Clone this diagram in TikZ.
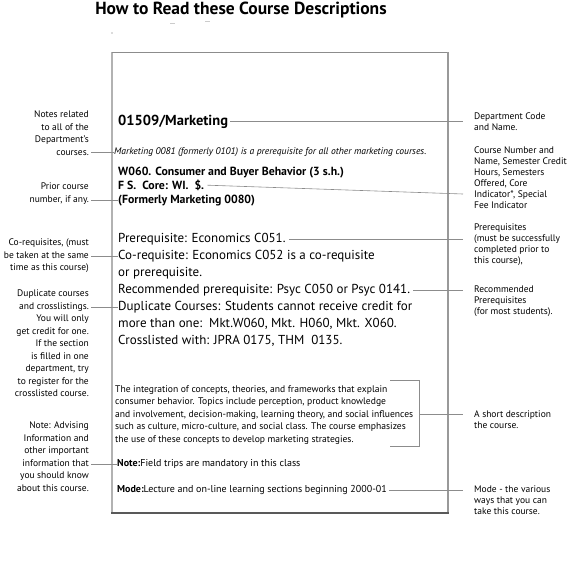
\documentclass[tikz,border=0pt]{standalone}
\usepackage{fontspec}
\setmainfont{PT Sans}
\newcommand\rlines[1]{\vtop{\halign{\hfil##\cr#1\crcr}}}
\newcommand\llines[1]{\vtop{\halign{##\hfil\cr#1\crcr}}}
\begin{document}
\begin{tikzpicture}[x=1pt,y=-1pt,
  labl/.style={font=\fontsize{9.5}{12.5}\selectfont, inner sep=0pt, anchor=base east},
  labr/.style={font=\fontsize{9.5}{11}\selectfont, inner sep=0pt, anchor=base west},
  conn/.style={draw=black!45, line width=0.6pt},
  big/.style={font=\fontsize{13}{16}\selectfont, inner sep=0pt, anchor=base west},
  hd/.style={font=\bfseries\fontsize{11.8}{14}\selectfont, inner sep=0pt, anchor=base west},
  small/.style={font=\fontsize{10}{13}\selectfont, inner sep=0pt, anchor=base west},
  descr/.style={font=\fontsize{9.6}{12.5}\selectfont, inner sep=0pt, anchor=base west}
]
\useasboundingbox (0,0) rectangle (576,566);
% title
\node[font=\bfseries\fontsize{17.5}{19}\selectfont, inner sep=0pt] (title) at (241,10) {How to Read these Course Descriptions};
\fill[black!60] (112,33) circle (0.6);
\draw[black!20, line width=0.5] (170,23) -- (175,23) (205,21) -- (210,21);
% frame
\draw[black!30, line width=1.8] (112,52) -- (112,513);
\draw[black!45, line width=0.9] (112,52) -- (448,52);
\draw[black!40, line width=1.2] (448,52) -- (448,513);
\draw[black!65, line width=1.2] (111,513) -- (449,513);
\coordinate (xr) at (463,0);
% department
\node[font=\bfseries\fontsize{14.5}{16}\selectfont, inner sep=0pt, anchor=base west] (mkt) at (118,125) {01509/Marketing};
\node[labr] (deptlab) at (474,119.5) {\llines{Department Code\cr and Name.}};
\draw[conn, shorten <=2pt] (mkt.east) -- (mkt.east -| xr);
% notes
\node[font=\itshape\fontsize{9.6}{11}\selectfont, inner sep=0pt, anchor=base west] (it) at (114,154.4) {Marketing 0081 (formerly 0101) is a prerequisite for all other marketing courses.};
\node[labl] (noteslab) at (89,117.9) {\rlines{Notes related\cr to all of the\cr Department's\cr courses.}};
\draw[conn, shorten <=2pt] (noteslab.east |- it.west) -- (it.west);
% course heading
\node[hd] (w060) at (118,175.2) {W060. Consumer and Buyer Behavior (3 s.h.)};
\node[hd] (fs) at (118,189.2) {F S.\ \ Core: WI.\ \ \$.};
\node[hd] (former) at (118,203.2) {(Formerly Marketing 0080)};
\coordinate (fsend) at (463,194);
\draw[conn, shorten <=3pt] (fs.east) -- (fsend);
\node[labr] (courselab) at (474,153.4) {\llines{Course Number and\cr Name, Semester Credit\cr Hours, Semesters\cr Offered, Core\cr Indicator*, Special\cr Fee Indicator}};
\node[labl] (priorlab) at (89,189.9) {\rlines{Prior course\cr number, if any.}};
\draw[conn, shorten <=2pt] (priorlab.east |- former.west) -- (former.west);
% requisites
\node[big] (pre) at (118,242.6) {Prerequisite: Economics C051.};
\node[big] (coreq) at (118,259.6) {Co-requisite: Economics C052 is a co-requisite};
\node[big] (orpre) at (118,276.6) {or prerequisite.};
\node[big] (rec) at (118,293.6) {Recommended prerequisite: Psyc C050 or Psyc 0141.};
\node[big] (dup) at (118,310.6) {Duplicate Courses: Students cannot receive credit for};
\node[big] (more) at (118,327.6) {more than one:\ \ Mkt.W060, Mkt. H060, Mkt. X060.};
\node[big] (cross) at (118,344.6) {Crosslisted with: JPRA 0175, THM\ \ 0135.};
\draw[conn, shorten <=3pt] (pre.east) -- (pre.east -| xr);
\node[labr] (prelab) at (474,230.4) {\llines{Prerequisites\cr (must be successfully\cr completed prior to\cr this course),}};
\node[labl] (coreqlab) at (89,245.9) {\rlines{Co-requisites, (must\cr be taken at the same\cr time as this course)}};
\draw[conn, shorten <=2pt] (coreqlab.east |- coreq.west) -- (coreq.west);
\draw[conn, shorten <=3pt] (rec.east) -- (rec.east -| xr);
\node[labr] (reclab) at (474,292.4) {\llines{Recommended\cr Prerequisites\cr (for most students).}};
\node[labl] (duplab) at (89,296.9) {\rlines{Duplicate courses\cr and crosslistings.\cr You will only\cr get credit for one.\cr If the section\cr is filled in one\cr department, try\cr to register for the\cr crosslisted course.}};
\draw[conn, shorten <=2pt] (duplab.east |- dup.west) -- (dup.west);
% description
\node[descr] (desc) at (115,392.4) {\llines{The integration of concepts, theories, and frameworks that explain\cr consumer behavior. Topics include perception, product knowledge\cr and involvement, decision-making, learning theory, and social influences\cr such as culture, micro-culture, and social class. The course emphasizes\cr the use of these concepts to develop marketing strategies.}};
\coordinate (b1) at (390,380);
\coordinate (b2) at (419,380);
\coordinate (b3) at (419,446);
\coordinate (b4) at (390,446);
\coordinate (bm) at (419,414);
\draw[conn] (b1) -- (b2) -- (b3) -- (b4);
\draw[conn] (bm) -- (bm -| xr);
\node[labr] (desclab) at (474,417.4) {\llines{A short description\cr the course.}};
% note and mode
\node[small] (note) at (117,466.5) {\textbf{Note:}Field trips are mandatory in this class};
\node[small] (mode) at (117,492.5) {\textbf{Mode:}Lecture and on-line learning sections beginning 2000-01};
\node[labl] (advlab) at (89,428.9) {\rlines{Note: Advising\cr Information and\cr other important\cr information that\cr you should know\cr about this course.}};
\draw[conn, shorten <=2pt] (advlab.east |- note.west) -- (note.west);
\draw[conn, shorten <=2pt] (mode.east) -- (mode.east -| xr);
\node[labr] (modelab) at (474,492.4) {\llines{Mode - the various\cr ways that you can\cr take this course.}};
\end{tikzpicture}
\end{document}
